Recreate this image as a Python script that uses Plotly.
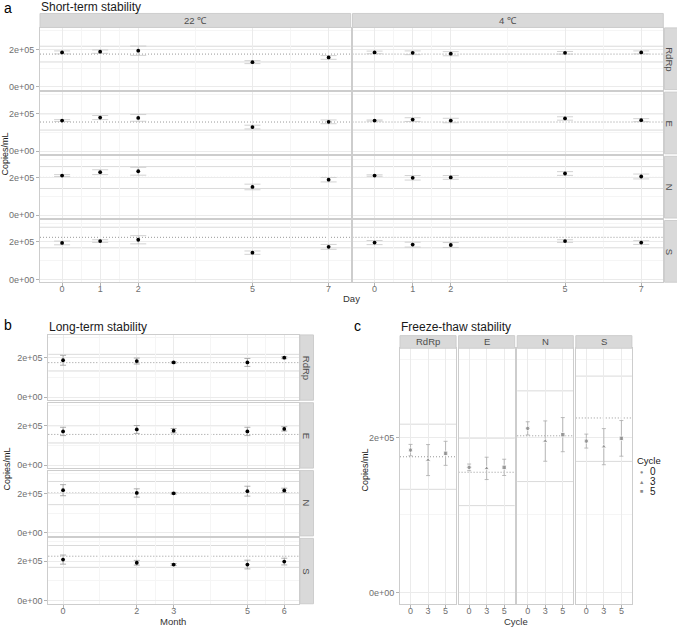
import plotly.graph_objects as go

# ---------------- data ----------------
targets = ["RdRp", "E", "N", "S"]
ref_value = [175000, 155000, 202000, 225000]
ref_lower = [133000, 112000, 143000, 169000]
ref_upper = [217000, 199000, 260000, 279000]

# Short-term stability (Day)
temps = ["22 ℃", "4 ℃"]
days = [0, 1, 2, 5, 7]
short22_mean = [
    [184000, 188000, 193000, 132000, 157000],
    [163000, 179000, 177000, 128000, 156000],
    [212000, 230000, 235000, 151000, 190000],
    [195000, 205000, 212000, 143000, 174000],
]
short22_err = [
    [8000, 9000, 25000, 8000, 10000],
    [5000, 11000, 18000, 10000, 10000],
    [5000, 13000, 21000, 15000, 12000],
    [10000, 7000, 22000, 9000, 13000],
]
short4_mean = [
    [184000, 182000, 177000, 182000, 184000],
    [163000, 168000, 163000, 174000, 165000],
    [212000, 200000, 202000, 223000, 207000],
    [197000, 186000, 184000, 205000, 197000],
]
short4_err = [
    [7000, 10000, 11000, 7000, 8000],
    [3000, 10000, 12000, 9000, 8000],
    [4000, 12000, 10000, 10000, 13000],
    [11000, 13000, 13000, 7000, 10000],
]

# Long-term stability (Month)
months = [0, 2, 3, 5, 6]
long_mean = [
    [187000, 183000, 176000, 176000, 200000],
    [170000, 180000, 174000, 170000, 183000],
    [216000, 202000, 200000, 211000, 215000],
    [208000, 192000, 183000, 183000, 198000],
]
long_err = [
    [25000, 15000, 4000, 20000, 5000],
    [21000, 20000, 11000, 21000, 11000],
    [28000, 21000, 5000, 25000, 11000],
    [23000, 12000, 5000, 22000, 17000],
]

# Freeze-thaw stability (Cycle)
cycles = ["0", "3", "5"]
ft_mean = [
    [183600, 170700, 179400],
    [161300, 160000, 161300],
    [211600, 195200, 203500],
    [195200, 188000, 198700],
]
ft_err = [
    [7300, 20000, 15500],
    [4300, 14400, 10500],
    [8500, 26000, 22000],
    [9000, 23300, 23000],
]

y_breaks = [0, 200000]
y_labels = ["0e+00", "2e+05"]
y_minor = [100000, 300000]

# ---------------- style ----------------
W, H = 677, 630
FONT = "Liberation Sans, Arial, Helvetica, sans-serif"
GRID = "#EBEBEB"
MINOR = "#F5F5F5"
BORDER = "#CDCDCD"
STRIP = "#D9D9D9"
TICKC = "#B3B3B3"
TEXTC = "#707070"
STRIPTXT = "#4D4D4D"
YRANGE = [-15000, 315000]

fig = go.Figure()
axes = {}
shapes = []
ann = []
count = [0]


def add_axes(box, xcfg, ycfg):
    count[0] += 1
    n = count[0]
    sx = "" if n == 1 else str(n)
    x0, y0, x1, y1 = box
    axes["xaxis" + sx] = dict(domain=[x0 / W, x1 / W], anchor="y" + sx, **xcfg)
    axes["yaxis" + sx] = dict(domain=[1 - y1 / H, 1 - y0 / H], anchor="x" + sx, **ycfg)
    return "x" + sx, "y" + sx


def base():
    return dict(showline=True, mirror=True, linecolor=BORDER, linewidth=1,
                showgrid=True, gridcolor=GRID, gridwidth=0.7, zeroline=False,
                tickfont=dict(size=9, color=TEXTC, family=FONT),
                tickcolor=TICKC, ticklen=3, tickwidth=0.8, fixedrange=True)


def yaxis_cfg(left):
    d = base()
    d.update(range=YRANGE, tickmode="array", tickvals=y_breaks, ticktext=y_labels,
             showticklabels=left, ticks="outside" if left else "",
             minor=dict(tickmode="array", tickvals=y_minor, showgrid=True,
                        gridcolor=MINOR, gridwidth=0.5))
    return d


def xaxis_num(breaks, rng, bottom):
    mids = [(a + b) / 2 for a, b in zip(breaks[:-1], breaks[1:])]
    d = base()
    d.update(range=rng, tickmode="array", tickvals=breaks, ticktext=[str(b) for b in breaks],
             showticklabels=bottom, ticks="outside" if bottom else "", ticklabelstandoff=-5,
             minor=dict(tickmode="array", tickvals=mids, showgrid=True,
                        gridcolor=MINOR, gridwidth=0.5))
    return d


def ref_lines(xa, ya, r):
    for v, dash, col in [(ref_lower[r], "solid", "#D6D6D6"), (ref_upper[r], "solid", "#D6D6D6"),
                         (ref_value[r], "1px,2px", "#8C8C8C")]:
        shapes.append(dict(type="line", xref=xa + " domain", yref=ya, x0=0, x1=1, y0=v, y1=v,
                           line=dict(color=col, width=0.9, dash=dash), layer="below"))


def strip(x0, y0, x1, y1, text, angle=0, tx=None):
    shapes.append(dict(type="rect", xref="paper", yref="paper", x0=x0 / W, x1=x1 / W,
                       y0=1 - y1 / H, y1=1 - y0 / H, fillcolor=STRIP,
                       line=dict(color=BORDER, width=1), layer="above"))
    cx = tx if tx is not None else (x0 + x1) / 2
    ann.append(dict(text=text, xref="paper", yref="paper", x=cx / W,
                    y=1 - ((y0 + y1) / 2) / H, showarrow=False, textangle=angle,
                    font=dict(size=9.5, color=STRIPTXT, family=FONT),
                    xanchor="center", yanchor="middle"))


def text(t, x, y, size=9, color="#1A1A1A", angle=0, xanchor="center"):
    ann.append(dict(text=t, xref="paper", yref="paper", x=x / W, y=1 - y / H, showarrow=False,
                    textangle=angle, font=dict(size=size, color=color, family=FONT),
                    xanchor=xanchor, yanchor="middle", borderpad=0))


# ---------------- panel a ----------------
a_cols = [(40, 350.7), (352.5, 663.3)]
a_rows = [(28.0, 89.9), (92.4, 154.3), (156.8, 218.7), (221.2, 283.1)]
for r, t in enumerate(targets):
    for c, temp in enumerate(temps):
        x0, x1 = a_cols[c]
        y0, y1 = a_rows[r]
        xa, ya = add_axes((x0, y0, x1, y1), xaxis_num(days, [-0.58, 7.58], r == 3), yaxis_cfg(c == 0))
        mean = short22_mean[r] if c == 0 else short4_mean[r]
        err = short22_err[r] if c == 0 else short4_err[r]
        fig.add_trace(go.Scatter(x=days, y=mean, mode="markers", xaxis=xa, yaxis=ya,
                                 marker=dict(color="black", size=3.8),
                                 error_y=dict(type="data", array=err, color="#C6C6C6",
                                              thickness=0.8, width=8),
                                 showlegend=False, hoverinfo="skip"))
        ref_lines(xa, ya, r)
for c, temp in enumerate(temps):
    strip(a_cols[c][0], 13.5, a_cols[c][1], 27.5, temp)
for r, t in enumerate(targets):
    strip(664.5, a_rows[r][0], 679, a_rows[r][1], t, 90, tx=669.5)

# ---------------- panel b ----------------
b_col = (48.3, 299)
b_rows = [(336.0, 401.5), (404.0, 469.6), (472.1, 537.6), (540.1, 605.7)]
for r, t in enumerate(targets):
    y0, y1 = b_rows[r]
    xa, ya = add_axes((b_col[0], y0, b_col[1], y1), xaxis_num(months, [-0.4, 6.4], r == 3), yaxis_cfg(True))
    fig.add_trace(go.Scatter(x=months, y=long_mean[r], mode="markers", xaxis=xa, yaxis=ya,
                             marker=dict(color="black", size=3.8),
                             error_y=dict(type="data", array=long_err[r], color="#9A9A9A",
                                          thickness=0.8, width=3),
                             showlegend=False, hoverinfo="skip"))
    ref_lines(xa, ya, r)
    strip(300, y0, 313.5, y1, t, 90)

# ---------------- panel c ----------------
c_cols = [(400.0, 456.1), (458.6, 514.7), (517.2, 573.3), (575.8, 631.9)]
c_top, c_bot = 349.3, 606
for j, t in enumerate(targets):
    x0, x1 = c_cols[j]
    xc = base()
    xc.update(type="category", categoryorder="array", categoryarray=cycles, range=[-0.6, 2.6],
              ticks="outside", showticklabels=True, ticklabelstandoff=-5)
    xa, ya = add_axes((x0, c_top, x1, c_bot), xc, yaxis_cfg(j == 0))
    fig.add_trace(go.Scatter(x=cycles, y=ft_mean[j], mode="markers", xaxis=xa, yaxis=ya,
                             marker=dict(color="#7F7F7F", size=[4.5, 5, 4.5],
                                         symbol=["circle", "triangle-up", "square"]),
                             error_y=dict(type="data", array=ft_err[j], color="#ABABAB",
                                          thickness=0.8, width=2),
                             showlegend=False, hoverinfo="skip"))
    ref_lines(xa, ya, j)
    strip(x0, 336.7, x1, 349.3, t)

# ---------------- texts ----------------
text("a", 8, 8, size=14, color="black")
text("Short-term stability", 40, 7, size=12, color="#1A1A1A", xanchor="left")
text("b", 8, 326, size=14, color="black")
text("Long-term stability", 48, 328, size=12, color="#1A1A1A", xanchor="left")
text("c", 357, 327, size=14, color="black")
text("Freeze-thaw stability", 400, 328, size=12, color="#1A1A1A", xanchor="left")

text("Copies/mL", 5, 155, size=9, angle=-90)
text("Copies/mL", 7, 471, size=9, angle=-90)
text("Copies/mL", 365, 472, size=9, angle=-90)
text("Day", 352, 299.5, size=9.5, color="#333333")
text("Month", 173, 623.5, size=9.5, color="#333333")
text("Cycle", 516, 623.5, size=9.5, color="#333333")

# legend (Cycle shapes)
text("Cycle", 636, 462, size=9.5, color="#1A1A1A", xanchor="left")
for k, (sym, yy) in enumerate(zip(["●", "▲", "■"], [473.5, 483.3, 493])):
    text(sym, 641, yy, size=5.5, color="#8A8A8A")
    text(cycles[k], 649, yy, size=10, color="#1A1A1A", xanchor="left")

fig.update_layout(width=W, height=H, margin=dict(l=0, r=0, t=0, b=0), autosize=False,
                  plot_bgcolor="white", paper_bgcolor="white", showlegend=False,
                  font=dict(family=FONT), shapes=shapes, annotations=ann, **axes)

fig.write_html("out.html", config={"displayModeBar": False},
               post_script="document.body.style.margin='0';document.body.style.padding='0';")
